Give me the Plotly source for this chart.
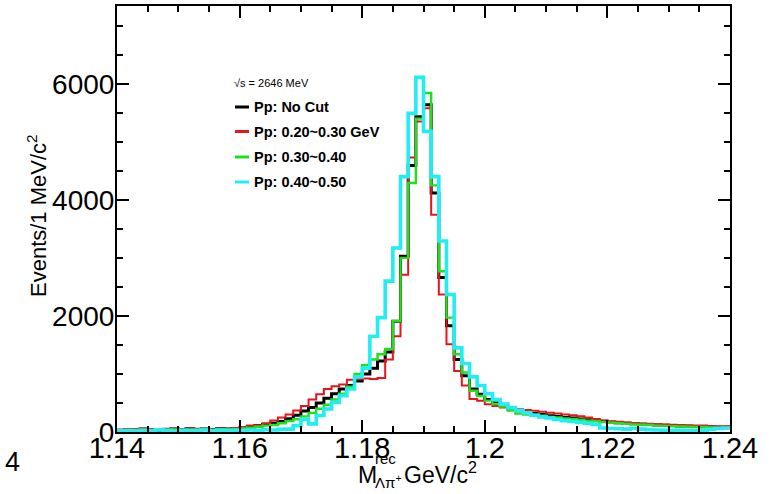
import numpy as np
import plotly.graph_objects as go

# ---------------- data (80 bins, 1.14 - 1.24 GeV) ----------------
x_min, x_max, n_bins = 1.14, 1.24, 80

no_cut = [30, 45, 35, 50, 40, 35, 45, 50, 40, 55, 45, 50, 40, 55, 50, 60,
          70, 90, 110, 130, 150, 180, 230, 290, 360, 420, 500, 580, 660, 740, 800, 880,
          1000, 1100, 1225, 1380, 1910, 3030, 4590, 5430,
          5640, 4120, 2660, 1830, 1250, 970, 740, 650, 560, 500,
          450, 400, 370, 340, 320, 300, 280, 265, 250, 240,
          225, 210, 200, 185, 170, 160, 150, 145, 135, 130,
          120, 115, 110, 105, 100, 95, 90, 85, 80, 80]

cut_020_030 = [40, 50, 45, 55, 50, 40, 55, 60, 45, 60, 55, 50, 45, 60, 55, 70,
               80, 110, 115, 150, 200, 250, 300, 370, 450, 560, 650, 740, 790, 820, 900, 910,
               920, 915, 930, 1250, 1650, 2710, 4730, 5350,
               5580, 3745, 2370, 1510, 1050, 800, 570, 540, 480, 450,
               420, 400, 390, 380, 365, 350, 330, 320, 300, 290,
               270, 250, 225, 200, 185, 175, 165, 155, 145, 140,
               135, 130, 125, 120, 115, 110, 110, 105, 100, 100]

cut_030_040 = [25, 35, 30, 40, 35, 30, 40, 45, 35, 45, 40, 45, 35, 50, 45, 50,
               60, 75, 90, 110, 120, 150, 190, 220, 270, 330, 400, 470, 560, 660, 780, 1000,
               1150, 1250, 1340, 1430, 1910, 3000, 4290, 5400,
               5840, 4250, 2770, 1970, 1340, 1025, 710, 620, 540, 480,
               440, 370, 320, 300, 290, 280, 260, 250, 235, 225,
               210, 195, 185, 170, 160, 150, 140, 130, 125, 120,
               110, 105, 100, 95, 90, 85, 85, 80, 75, 70]

cut_040_050 = [20, 25, 15, 30, 20, 40, 25, 15, 30, 20, 25, 35, 20, 30, 25, 30,
               30, 35, 30, 40, 35, 45, 50, 110, 220, 140, 285, 395, 510, 625, 740, 950,
               1100, 1650, 1970, 2600, 3170, 4400, 5490, 6110,
               5180, 4400, 3290, 2370, 1450, 1180, 950, 800, 660, 560,
               480, 420, 370, 330, 290, 260, 240, 215, 195, 180,
               165, 150, 130, 70, 60, 55, 50, 60, 50, 40,
               35, 30, 25, 30, 25, 20, 30, 45, 60, 70]

series_names = ["Pp: No Cut", "Pp: 0.20~0.30 GeV", "Pp: 0.30~0.40", "Pp: 0.40~0.50"]
series_values = [no_cut, cut_020_030, cut_030_040, cut_040_050]
series_colors = ["#000000", "#e8141c", "#1ee01e", "#22eef2"]
series_widths = [3, 2, 2.4, 3.6]

x_tick_vals = [1.14, 1.16, 1.18, 1.20, 1.22, 1.24]
x_tick_text = ["1.14", "1.16", "1.18", "1.2", "1.22", "1.24"]
y_tick_vals = [0, 2000, 4000, 6000]
y_tick_text = ["0", "2000", "4000", "6000"]
y_max = 7340

FONT = "Liberation Sans, Arial, sans-serif"

edges = np.linspace(x_min, x_max, n_bins + 1)

fig = go.Figure()
for name, vals, col, w in zip(series_names, series_values, series_colors, series_widths):
    v = np.asarray(vals, dtype=float)
    fig.add_trace(go.Scatter(
        x=edges, y=np.append(v, v[-1]), mode="lines", line_shape="hv",
        line=dict(color=col, width=w), name=name, showlegend=False,
        hoverinfo="skip"))

W, H = 782, 494
L, R, T, B = 117, 52, 6, 62
pw, ph = W - L - R, H - T - B

fig.update_layout(
    width=W, height=H,
    margin=dict(l=L, r=R, t=T, b=B, autoexpand=False),
    paper_bgcolor="white", plot_bgcolor="white",
    font=dict(family=FONT, color="black"),
    xaxis=dict(range=[x_min, x_max], tickmode="array", tickvals=x_tick_vals, ticktext=x_tick_text,
               ticks="inside", ticklen=12, tickwidth=1.5, tickcolor="black",
               showline=True, linewidth=2, linecolor="black", mirror="ticks",
               showgrid=False, zeroline=False, ticklabelstandoff=-11,
               tickfont=dict(size=29, family=FONT, color="black"),
               minor=dict(tickmode="linear", tick0=x_min, dtick=0.005, ticks="inside", ticklen=6,
                          tickwidth=1.5, tickcolor="black", showgrid=False)),
    yaxis=dict(range=[0, y_max], tickmode="array", tickvals=y_tick_vals, ticktext=y_tick_text,
               ticks="inside", ticklen=12, tickwidth=1.5, tickcolor="black",
               showline=True, linewidth=2, linecolor="black", mirror="ticks",
               showgrid=False, zeroline=False, ticklabelstandoff=-5,
               tickfont=dict(size=28, family=FONT, color="black"),
               minor=dict(tickmode="linear", tick0=0, dtick=500, ticks="inside", ticklen=6,
                          tickwidth=1.5, tickcolor="black", showgrid=False)),
)

def px_x(p):
    return (p - L) / pw

def px_y(p):
    return (H - B - p) / ph

ann = []
# Y axis title
ann.append(dict(text="Events/1 MeV/c<sup>2</sup>", xref="paper", yref="paper",
                x=px_x(37), y=px_y(216), xanchor="center", yanchor="middle",
                textangle=-90, showarrow=False, font=dict(size=22, family=FONT)))
# X axis title pieces
ann.append(dict(text="M", xref="paper", yref="paper", x=px_x(356), y=px_y(475),
                xanchor="left", yanchor="middle", showarrow=False, font=dict(size=23, family=FONT)))
ann.append(dict(text="rec", xref="paper", yref="paper", x=px_x(373), y=px_y(459),
                xanchor="left", yanchor="middle", showarrow=False, font=dict(size=15, family=FONT)))
ann.append(dict(text="Λπ<sup>+</sup>", xref="paper", yref="paper", x=px_x(373), y=px_y(482),
                xanchor="left", yanchor="middle", showarrow=False, font=dict(size=15, family=FONT)))
ann.append(dict(text="GeV/c<sup>2</sup>", xref="paper", yref="paper", x=px_x(402), y=px_y(473),
                xanchor="left", yanchor="middle", showarrow=False, font=dict(size=23, family=FONT)))
# stray label at bottom-left
ann.append(dict(text="4", xref="paper", yref="paper", x=px_x(13), y=px_y(462),
                xanchor="center", yanchor="middle", showarrow=False, font=dict(size=27, family=FONT)))

# Legend
ann.append(dict(text="√s = 2646 MeV", xref="paper", yref="paper", x=px_x(232), y=px_y(83),
                xanchor="left", yanchor="middle", showarrow=False, font=dict(size=11, family=FONT)))
leg_rows = [107, 131.5, 157, 182]
shapes = []
for name, col, yy in zip(series_names, series_colors, leg_rows):
    shapes.append(dict(type="line", xref="paper", yref="paper",
                       x0=px_x(235), x1=px_x(249), y0=px_y(yy), y1=px_y(yy),
                       line=dict(color=col, width=3)))
    ann.append(dict(text="<b>" + name + "</b>", xref="paper", yref="paper",
                    x=px_x(252), y=px_y(yy), xanchor="left", yanchor="middle",
                    showarrow=False, font=dict(size=14.5, family=FONT)))

fig.update_layout(annotations=ann, shapes=shapes)
fig.write_html("out.html", post_script="document.body.style.margin='0';",
               config={"displayModeBar": False})
